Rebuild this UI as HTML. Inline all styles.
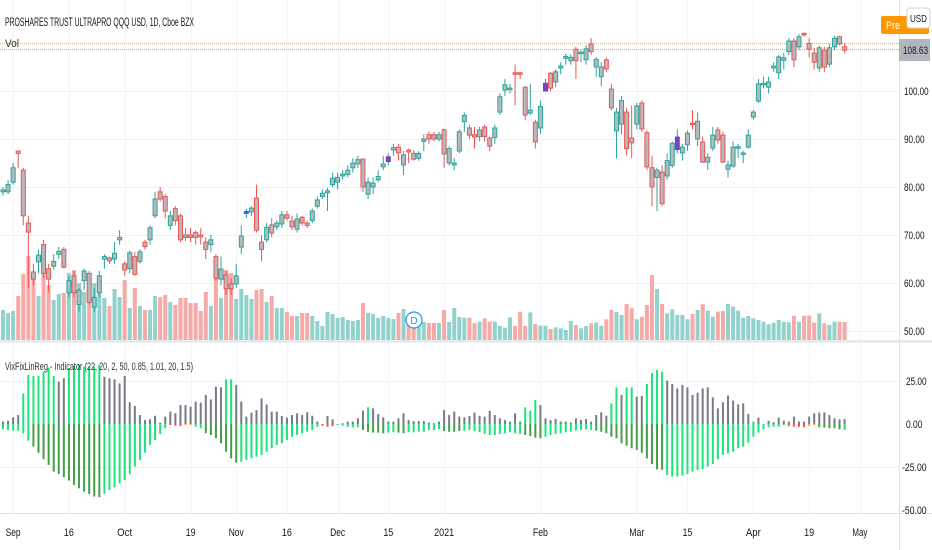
<!DOCTYPE html>
<html><head><meta charset="utf-8"><style>
html,body{margin:0;padding:0;background:#fff;}
svg{display:block;font-family:"Liberation Sans",sans-serif;}
</style></head><body>
<svg id="chart" width="932" height="550" viewBox="0 0 932 550" xmlns="http://www.w3.org/2000/svg"></svg>
<script>
// ---- data ----
const opens=[79,79,81,87.5,83.5,72.5,62.3,64.4,68,63,63.5,66,67,58,61.5,55.5,60.5,62,55,58,65,65.2,65,69,64,63,65.5,64.5,68.5,69,74,79,78,72,75.5,74,70,70,70.5,70,68.5,68,65.5,60.8,61.7,59.8,59.8,67.5,74.5,74.8,77.7,68.5,69,72.1,71.7,72.3,74.2,72.9,71.2,
73.7,72.5,73,76,78,78.8,80.5,81,82.3,82.6,84,84.8,85.8,78.5,80,81.5,84.2,85.3,87.7,88.3,84.6,87.7,87,86,89.5,90.9,90.9,90,91.9,85,84.6,87.5,93.6,92.3,90.9,90.5,92.5,90.2,90.3,95.6,100.2,100.3,103.8,103.8,100.8,95.4,93.5,92.3,100,103.7,101.9,104.8,106.8,106.3,108.7,107.8,106.5,
109.8,105,103,106.5,100.4,91.7,93.1,95.6,90.2,93.1,97.5,91.3,84,82,83.1,82.3,84.5,87.8,87.1,88.8,93.3,90,89.4,85.2,88.1,91.9,90.8,83.7,84.4,88.2,86.8,88.3,94.6,97.9,101.4,100.8,104.8,103.8,106.4,108.2,110.4,109.2,112,109.9,107.9,104.8,108.5,105.6,109.2,111.3,109.2];
const closes=[79.4,80.5,84,87,74,70.6,60.8,65.8,62,60.8,64.5,66.6,63.3,60.5,58,58.5,62.5,56,57,61.5,65.5,64.6,66.2,69.5,62.7,66.3,61.8,66.5,67.6,71.5,77.5,77.5,75,74,73,69,69.5,69.5,69.5,69.6,67,69,61,62.9,58.8,58.8,61.5,69.8,74.9,75.6,71,67,71.6,70.4,72.5,74.2,73.5,71.7,73.3,
72.5,72,75,77.3,78.7,79.2,81.8,82,82.7,83.5,85,85.7,80,81,80.8,82.2,84.8,86.3,88.2,87.1,86.7,87.3,85.8,87,90,90,90,90.9,86.9,88,85,91.5,94.9,90.8,90.4,91.9,90.5,88.5,92.3,98.8,101.3,100.6,103.5,103.5,95,96,89.4,96.8,101.6,100.6,104,105.2,107.2,107,106.3,108.1,108.8,
108.2,106.6,105,104.6,96.5,95.6,98,88,89.2,96.9,92.1,84.2,80,83.5,76.5,85.5,89.1,90.4,88.3,91.2,93,93.7,85.2,86.2,90.8,89.8,85.2,84.6,88.3,88.4,87.1,90.8,95.6,101.5,101.6,101.9,105.2,107.1,106.9,110.4,106.5,111.3,111.7,108.7,106,109,105,109,111,109.8,108.5];
const highs=[80,81.5,85,87.6,84,74,64,67,69,64,66,67.5,67.5,61.5,62.5,59,63,62.5,59,62.5,66,65.5,68.5,71,64.5,66.8,66.5,67,69,72,79,80,78.5,75,76,74.5,71.5,71.5,71,71.5,69.5,70,66,65.5,62.5,61,64,72,75.5,76,80.5,70,72.5,73.5,73,75,75,74,74.5,
74,73,75.5,78,79.5,79.8,83,83,83.5,84.5,86,86.5,86,82,82,83.5,86.5,87,89,89,87.5,88,87.7,87.5,91,91.5,91.5,91.5,92.2,88.5,86,92,95.5,93,92.5,92.5,93,90.5,93,99.5,102.5,101.5,105.5,104,101,101.5,94,98,102.5,104,104.5,106,107.8,107.6,109.2,108.5,109.5,
111,107,106,107,101.5,96.5,99,96.5,97,97.5,98,91.8,86.5,84,84.5,87,89.5,92,89,91.8,96,95.5,90.5,87,92.5,92.5,91.5,85.5,89.5,89,87.5,92,96,102.5,103,103,106,107.5,108,111,111,111.8,112.2,111,109,109.5,109.2,109.8,111.5,111.5,110];
const lows=[78.2,78.5,80.5,84,72,59,59.5,62,61,58,62.8,65,63,57,57,54,58.5,55.5,54,57,63,64,64,68,61.5,62,61.5,64,67,68,73.5,77,73.5,71,72,68.5,68.8,68.5,68,68,65,66.5,60.5,59.5,57.5,57.5,59,66,73.5,74,70.5,64.5,68.5,69.5,71,71.5,73,71,70.5,
72,71.5,72.5,75.5,77.5,75,80,79.5,81.5,82,83,84,79,77.5,78.5,81,83.5,84.5,86.5,85.5,82.5,85,85.5,85.5,87.5,89,89.5,89.5,84,84.5,83.5,87,91.5,90,88,89.5,89.5,87.5,89,95,99,99.5,97,102.5,94,95,88,91,100,100,100.8,103.5,105.5,105.5,102.5,106,105.5,
107.5,103,101,104,96,86,91,86.5,86,92,91.5,83.5,76,75,76,81.5,84,87,85.5,87.5,92,88.5,85,83.5,87.5,89,85,82,84,86,85,88,94,97.5,100.5,99.5,104,102.5,104.5,107.5,105,108.5,111.3,107,104.5,104,104,105,108.5,109.5,107.8];
const specialCandle={48:'#2962ff',76:'#7b3fc4',107:'#7b3fc4',133:'#7b3fc4'};
const volumes=[30,27,29,44,66,84,65,44,74,55,40,46,47,67,70,57,48,47,57,63,42,34,51,43,60,32,52,34,30,30,44,43,45,38,35,42,42,37,37,29,48,34,63,42,70,67,41,51,45,41,50,51,38,44,32,32,28,24,24,
27,27,24,19,14,28,26,22,23,20,19,20,37,27,26,22,24,22,21,27,31,20,20,18,18,17,17,17,30,18,32,23,
22.3,22.3,16.7,18.3,21.7,18.3,18.3,14,12.3,22.7,14,28.3,14,27.7,16,14.3,14.3,11,12.7,11.7,10,19,15,11.7,14,16.7,17.3,14.3,20.7,30,28,25,36,31.7,20.7,23.3,35,65,51,36,26.7,30.7,25,25,20.7,26,30,35.7,29.3,23.3,28.3,29,36,33.3,29.3,22.3,24,21.7,20,18.3,15.7,17.3,20,18.3,17.7,24.3,18.3,24.3,24.3,17.3,26.7,16.7,15,18.3,18.3,18];
const vixUpper=[1.4,1.9,3.9,5.2,17.8,28.5,27.9,27.9,30.4,32.8,27.9,24.6,26.6,32.4,33.7,34.3,33.3,33.3,33.3,34.3,27.5,26.6,26.0,23.6,27.9,12.6,10.5,5.2,2.3,2.7,4.8,0.8,4.3,7.2,6.2,11.0,11.0,10.1,13.0,12.4,16.9,14.3,21.7,21.3,26.0,26.0,22.7,13.0,4.3,6.6,8.1,14.9,11.4,7.2,7.2,4.7,3.7,5.2,6.2,5.2,6.8,4.8,1.4,0,4.7,2.7,0,0.4,1.4,1.4,3.3,7.8,9.7,9.1,5.8,3.9,1.4,1.4,3.3,6.2,2.3,1.7,1.7,1.7,0.8,0.4,1.4,8.1,5.2,7.2,4.3,3.9,
4.7,6.6,4.8,4.3,7.6,5.2,3.3,2.3,1.4,6.2,1.4,9.7,7.8,14,11,3.3,2.3,2.9,1.4,1.4,0.8,3.3,2.3,2.9,1.4,5.2,6.8,4.8,12,21.3,16.9,21.3,21.3,15.9,16.3,23.3,29.5,31.4,30.4,25.2,23.3,20.7,22.7,21.3,16.9,18.2,20.7,21.3,15.5,9.1,12.6,16.5,13.6,11.4,12,5.8,1.4,3.7,0,1.9,1,3.7,1.9,1.4,4.3,1.4,1.4,4.3,6.2,6.6,6.8,5.2,3.3,2.7,2.9];
const vixLower=[-3.1,-3.5,-3.9,-3.9,-5.4,-9.7,-13.2,-16.7,-20.5,-23.8,-27.7,-29.1,-31,-32.9,-35.5,-37.4,-39.3,-40.7,-42.2,-42.6,-40.7,-38.4,-36.8,-34.5,-32.6,-29.1,-24.8,-20.9,-16.7,-12.2,-9.3,-5.8,-2.5,-0.6,-1,-1.2,-0.6,-0.6,-1.6,-2.5,-5.4,-6.4,-8.3,-11.2,-16.1,-20,-22.5,-21.9,-20.9,-20,-19,-18,-16.1,-14.1,-12.2,-11.2,-9.3,-7.4,-6.4,-5.4,-4.5,-3.5,-1.6,-1,-1.6,-1.2,-0.6,-1,-1.6,-1.9,-1.9,-3.5,-4.5,-5,-5,-5.4,-5,-4.8,-5,-5.4,-4.8,-4.8,-4.5,-4.5,-3.5,-3.5,-2.9,-4.1,-4.5,-4.5,-4.1,-3.9,
-3.5,-4.1,-4.8,-5.8,-6.4,-6.4,-5.8,-5.4,-4.8,-5.4,-5.8,-6.4,-7,-7.9,-8.3,-7.4,-6.4,-5.8,-5.4,-4.8,-4.5,-3.9,-3.5,-3.1,-3.5,-3.9,-4.5,-5.4,-7.4,-8.3,-11.2,-12.6,-14.1,-15.1,-16.7,-20,-23.3,-26.4,-26.7,-29.7,-30.6,-30.6,-30,-29.1,-27.7,-26.7,-26.2,-24.8,-23.3,-20.5,-18,-17.1,-16.1,-14.1,-13.2,-10.9,-7.4,-5,-3.1,-1.9,-1.6,-1.6,-0.6,-1.2,-1.6,-1.6,-1.9,-1.2,-0.6,-1.9,-2.1,-2.5,-2.5,-3.1,-3.5];
const upperGreenRanges=[[4,10],[13,19],[44,45],[72,72],[103,105],[120,121],[123,124],[127,130],[148,148]];
const lowerColorRanges=[[6,19,'d'],[33,35,'r'],[36,37,'o'],[40,46,'d'],[63,65,'r'],[71,75,'d'],[78,79,'d'],[87,90,'d'],[103,106,'d'],[117,130,'d'],[155,158,'r'],[159,160,'o'],[161,165,'d']];
const priceTicks=[100,90,80,70,60,50];
const vixTicks=[25,0,-25,-50];
const timeLabels=['Sep','16','Oct','19','Nov','16','Dec','15','2021','Feb','Mar','15','Apr','19','May'];
const timeLabelBars=[2,13,24,37,46,56,66,76,87,106,125,135,148,159,169];

// ---- scales ----
const X0=3, STEP=5.07;
const xAt=i=>X0+i*STEP;
const yPrice=p=>91+(100-p)*4.8;
const yVol=v=>340-v;
const yVix=v=>424-v*1.72;

const NS='http://www.w3.org/2000/svg';
const svg=document.getElementById('chart');
function mk(tag,attrs,parent){const e=document.createElementNS(NS,tag);for(const k in attrs)e.setAttribute(k,attrs[k]);(parent||svg).appendChild(e);return e;}
function grp(name){const g=document.createElementNS(NS,'g');svg.appendChild(g);return g;}

// grid
const grid=grp('grid');
priceTicks.forEach(p=>{const l=mk('line',{x1:0,x2:899,y1:yPrice(p)+0.5,y2:yPrice(p)+0.5,stroke:'#eef0f5'},grid);

});
[25,-25].forEach(v=>{const l=mk('line',{x1:0,x2:899,y1:yVix(v)+0.5,y2:yVix(v)+0.5,stroke:'#eef0f5'},grid);

});
timeLabelBars.forEach(b=>{const x=Math.round(xAt(b))+0.5;const l=mk('line',{x1:x,x2:x,y1:0,y2:513,stroke:'#f3f4f8'},grid);

});

// volume
const vg=grp('volume-series');
volumes.forEach((v,i)=>{const up=closes[i]>=opens[i];
const r=mk('rect',{x:xAt(i)-2,y:yVol(v),width:4,height:340-yVol(v),fill:up?'#92d2cc':'#f7a9a7'},vg);

});

// price lines
const pl=grp('price-lines');
mk('line',{x1:0,x2:899,y1:43.5,y2:43.5,stroke:'#f6b26b','stroke-width':1.2,'stroke-dasharray':'1 1'},pl);
mk('line',{x1:0,x2:899,y1:49.5,y2:49.5,stroke:'#aab0ba','stroke-dasharray':'1 1'},pl);

// candles
const cg=grp('candle-series');
opens.forEach((o,i)=>{const c=closes[i];const up=c>=o;const col=up?'#26a69a':'#ef5350';const x=xAt(i);
const w=mk('line',{x1:x,x2:x,y1:yPrice(highs[i]),y2:yPrice(lows[i]),stroke:col,'stroke-width':1},cg);


const top=yPrice(Math.max(o,c)),bot=yPrice(Math.min(o,c));
const fill=specialCandle[i]||'#b4b9bd';
const b=mk('rect',{x:x-2,y:top,width:4,height:Math.max(1.5,bot-top),fill:fill,stroke:specialCandle[i]||col,'stroke-width':1},cg);

});

// pane separators & axes
const ax=grp('axes');
mk('rect',{x:0,y:340.5,width:932,height:2,fill:'#e0e3eb'},ax);
mk('line',{x1:0,x2:932,y1:513.5,y2:513.5,stroke:'#e0e3eb'},ax);
mk('line',{x1:899.5,x2:899.5,y1:0,y2:550,stroke:'#e0e3eb'},ax);

// indicator
const ig=grp('vixfix-histogram');
const upColor=i=>upperGreenRanges.some(r=>i>=r[0]&&i<=r[1])?'#1de47a':'#787b86';
const lowColor=i=>{const r=lowerColorRanges.find(r=>i>=r[0]&&i<=r[1]);const c=r?r[2]:'g';return {g:'#1de47a',d:'#43a047',r:'#ff4d4d',o:'#ff9f1a'}[c];};
vixUpper.forEach((v,i)=>{const x=xAt(i)-1;const y=yVix(v);
const r=mk('rect',{x:x,y:y,width:2,height:Math.max(424-y,1),fill:upColor(i)},ig);

});
vixLower.forEach((v,i)=>{const x=xAt(i)-1;const y=yVix(v);
const r=mk('rect',{x:x,y:424,width:2,height:Math.max(y-424,1),fill:lowColor(i)},ig);

});

// axis labels
function txt(s,x,y,attrs,name){const t=mk('text',Object.assign({x:x,y:y,'font-size':11,fill:'#131722'},attrs||{}));t.textContent=s;

return t;}
const cond=(n)=>({textLength:n,lengthAdjust:'spacingAndGlyphs'});
priceTicks.forEach(p=>{const s=p.toFixed(2);txt(s,904,yPrice(p)+4,cond(s.length*4.1),'price-tick-label');});
vixTicks.forEach(v=>{const s=v.toFixed(2);txt(s,v<0?902:906,yVix(v)+4,cond(s.length*4.1),'indicator-tick-label');});
timeLabels.forEach((s,k)=>txt(s,xAt(timeLabelBars[k]),536,Object.assign({'text-anchor':'middle'},cond(s.length*5)),'time-tick-label'));

// titles
txt('PROSHARES TRUST ULTRAPRO QQQ USD, 1D, Cboe BZX',5,26,Object.assign({'font-size':11.5},cond(189)),'chart-title');
txt('Vol',5,47,Object.assign({'font-size':11,fill:'#333'},cond(14)),'volume-label');
txt('VixFixLinReg - Indicator (22, 20, 2, 50, 0.85, 1.01, 20, 1.5)',5,370,Object.assign({'font-size':11,fill:'#333'},cond(188)),'indicator-title');

// dividend marker
const dm=mk('circle',{cx:414,cy:320,r:8,fill:'#fff',stroke:'#2196f3','stroke-width':1.2});


txt('D',414,324,{'font-size':10,fill:'#2196f3','text-anchor':'middle'},'dividend-marker-label');

// right badges
const pre=mk('rect',{x:881,y:16,width:48,height:18,rx:2,fill:'#ff9800'});


txt('Pre',886,29,Object.assign({fill:'#fff','font-size':11},cond(14)),'pre-market-label');
const pb=mk('rect',{x:899,y:39,width:31,height:22,fill:'#b2b5be'});


txt('108.63',903,54,cond(25),'last-price-label');
const usd=mk('rect',{x:907,y:8,width:23,height:20,rx:3,fill:'#fff',stroke:'#d1d4dc'});


txt('USD',910,22,Object.assign({'font-size':10},cond(17)),'currency-label');
</script>
</body></html>
